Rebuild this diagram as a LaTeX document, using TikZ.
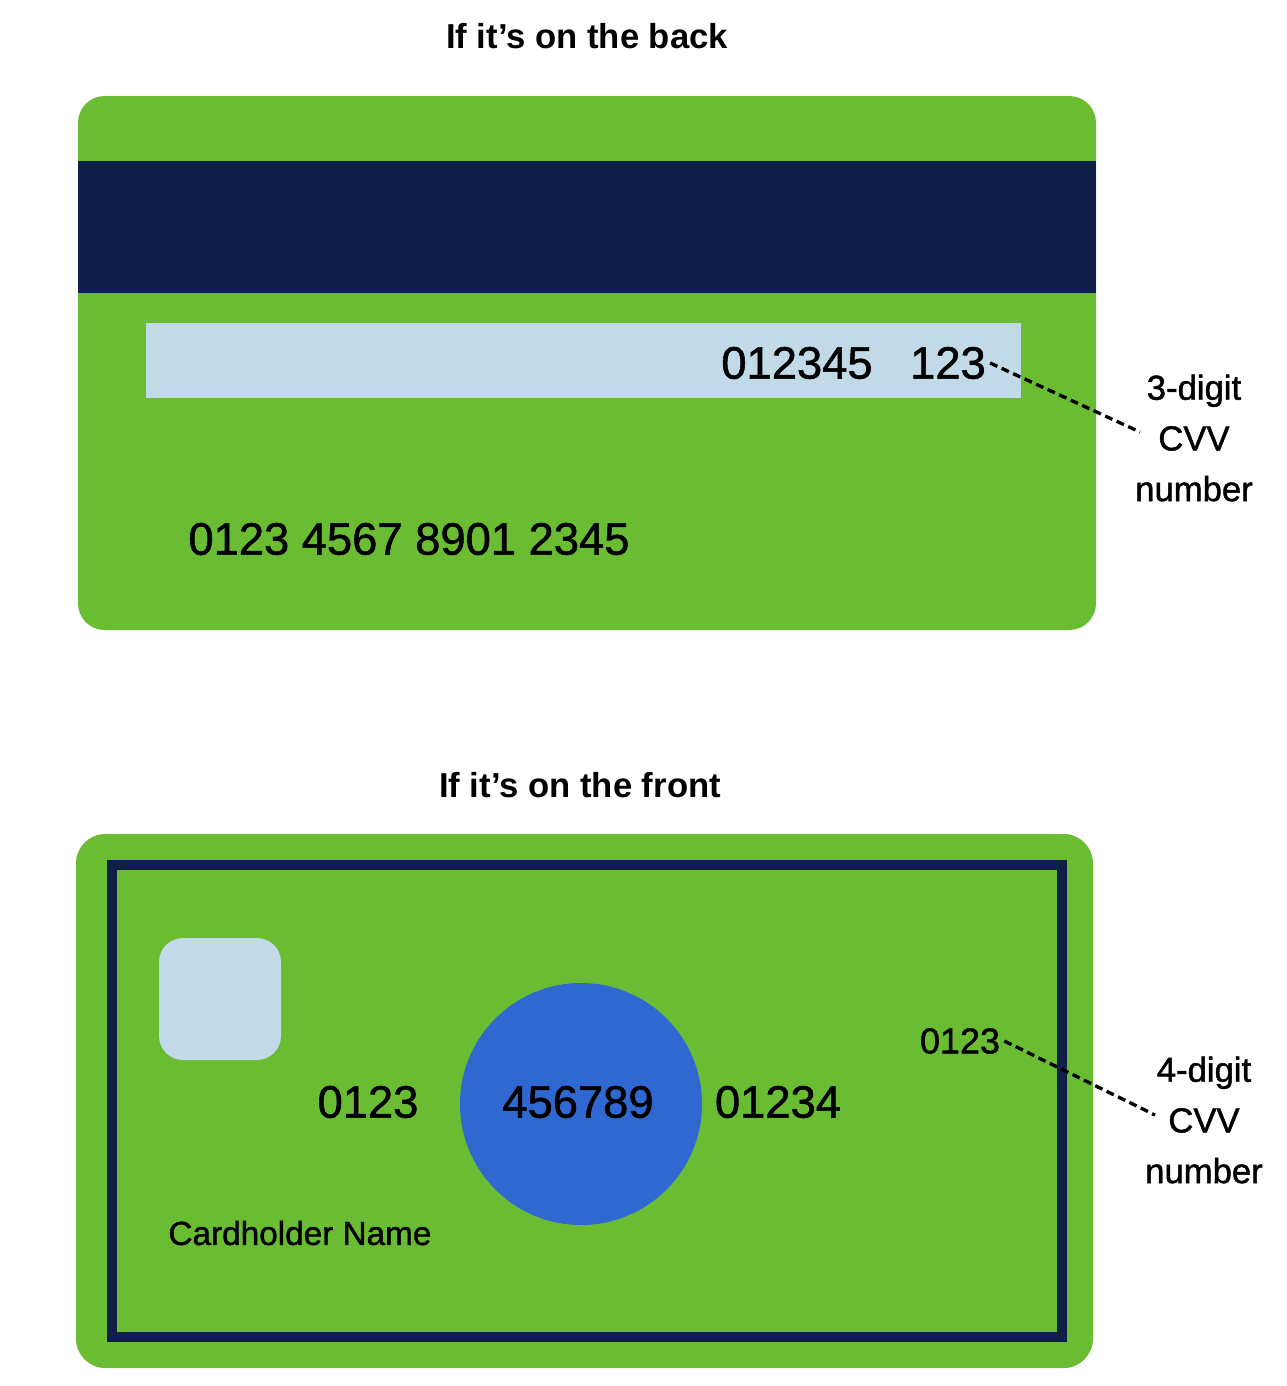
\documentclass[tikz,border=0pt]{standalone}
\usepackage{fontspec}
\setmainfont{Liberation Sans}
\newfontface\medfont{Liberation Sans}[FakeBold=1.3]
\definecolor{cardgreen}{HTML}{6ABD32}
\definecolor{navy}{HTML}{0F1F48}
\definecolor{paleblue}{HTML}{C2DAE8}
\definecolor{discblue}{HTML}{2F68D0}
\begin{document}
\begin{tikzpicture}[x=0.75pt,y=-0.75pt,
  title/.style={font=\bfseries\fontsize{26}{30}\selectfont, inner sep=0pt},
  bignum/.style={font=\medfont\fontsize{34}{40}\selectfont, inner sep=0pt, text=black},
  smallnum/.style={font=\medfont\fontsize{27}{32}\selectfont, inner sep=0pt, text=black},
  namelbl/.style={font=\medfont\fontsize{25}{30}\selectfont, inner sep=0pt, text=black},
  sidelbl/.style={font=\medfont\fontsize{26}{38}\selectfont, align=center, inner sep=0pt},
  leader/.style={dash pattern=on 6pt off 3.5pt, line width=2.5pt, black}]
\useasboundingbox[fill=white] (0,0) rectangle (1286,1386);

% ---------- back of card ----------
\node[title] (t1) at (587,36) {If it’s on the back};
\fill[cardgreen, rounded corners=20pt] (78,96) rectangle (1096,630);
\fill[navy] (78,161) rectangle (1096,293);
\fill[paleblue] (146,323) rectangle (1021,398);
\node[bignum] (n6) at (797,363) {012345};
\node[bignum] (n3) at (948,363) {123};
\node[bignum] (pan) at (409,539) {0123 4567 8901 2345};
\node[sidelbl] (l3) at (1194,438) {3-digit\\CVV\\number};
\coordinate (e3) at (1140,432);
\draw[leader] (n3.east) ++(3pt,0) coordinate (s3) -- (e3);

% ---------- front of card ----------
\node[title] (t2) at (580,785) {If it’s on the front};
\fill[cardgreen, rounded corners=22pt] (76,834) rectangle (1093,1368);
\draw[navy, line width=7.5pt] (112,865) rectangle (1062,1337);
\fill[paleblue, rounded corners=18pt] (159,938) rectangle (281,1060);
\fill[discblue] (581,1104) circle (121);
\node[bignum] (f1) at (368,1102) {0123};
\node[bignum] (f2) at (578,1102) {456789};
\node[bignum] (f3) at (778,1102) {01234};
\node[namelbl] (nm) at (300,1233) {Cardholder Name};
\node[smallnum] (c4) at (960,1041) {0123};
\node[sidelbl] (l4) at (1204,1120) {4-digit\\CVV\\number};
\coordinate (e4) at (1155,1115);
\draw[leader] (c4.east) ++(3pt,0) coordinate (s4) -- (e4);
\end{tikzpicture}
\end{document}
